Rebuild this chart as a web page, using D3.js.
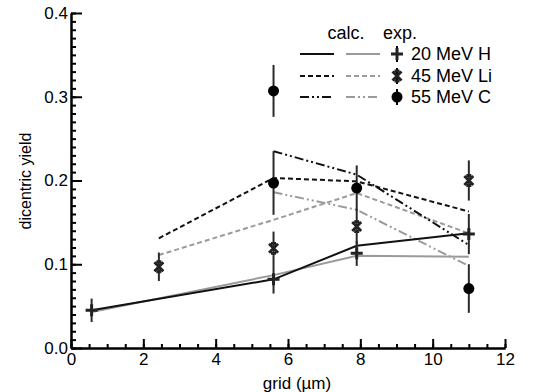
<!DOCTYPE html>
<html>
<head>
<meta charset="utf-8">
<script src="https://cdn.jsdelivr.net/npm/d3@7"></script>
<style>
  body { margin: 0; background: #fff; }
  text { font-family: "Liberation Sans", Arial, sans-serif; fill: #000; }
  .axis path, .axis line { stroke: #000; stroke-width: 2; }
  .axis text { font-family: "Liberation Sans", Arial, sans-serif; font-size: 17px; fill: #000; }
</style>
</head>
<body>
<div class="chart"></div>
<script>
// calculated curves
var calcH  = [[0.57, 0.045], [5.6, 0.082], [7.9, 0.122], [11.0, 0.137]];
var calcLi = [[2.43, 0.131], [5.6, 0.203], [7.9, 0.199], [11.0, 0.163]];
var calcC  = [[5.6, 0.235], [7.9, 0.207], [11.0, 0.123]];

// experimental curves (lines)
var expLineH  = [[0.57, 0.043], [5.6, 0.087], [7.9, 0.110], [11.0, 0.109]];
var expLineLi = [[2.43, 0.111], [5.6, 0.153], [7.9, 0.185], [11.0, 0.137]];
var expLineC  = [[5.6, 0.186], [7.9, 0.165], [11.0, 0.098]];

// experimental points: [x, y, error]
var expH  = [[0.57, 0.045, 0.014], [5.6, 0.082, 0.017], [7.9, 0.113, 0.015], [11.0, 0.136, 0.024]];
var expLi = [[2.43, 0.097, 0.017], [5.6, 0.119, 0.020], [7.9, 0.145, 0.021], [11.0, 0.200, 0.024]];
var expC  = [[5.6, 0.307, 0.031], [5.6, 0.197, 0.038], [7.9, 0.191, 0.027], [11.0, 0.071, 0.029]];

var legendLabels = ["20 MeV H", "45 MeV Li", "55 MeV C"];
var xTicks = [0, 2, 4, 6, 8, 10, 12];
var yTicks = [0.0, 0.1, 0.2, 0.3, 0.4];

var W = 539, H = 392;
var pLeft = 71, pTop = 13, pRight = 505, pBottom = 348;

var x = d3.scaleLinear().domain([0, 12]).range([pLeft, pRight]);
var y = d3.scaleLinear().domain([0, 0.4]).range([pBottom, pTop]);

var svg = d3.select(".chart").append("svg")
  .attr("width", W).attr("height", H);

var line = d3.line()
  .x(function(d) { return x(d[0]); })
  .y(function(d) { return y(d[1]); });

var dashed = "5,3";
var dashDot = "9,3,2,3,2,3";
var black = "#111", grey = "#9a9a9a";

var series = [
  {data: expLineH,  color: grey,  dash: null},
  {data: expLineLi, color: grey,  dash: dashed},
  {data: expLineC,  color: grey,  dash: dashDot},
  {data: calcH,  color: black, dash: null},
  {data: calcLi, color: black, dash: dashed},
  {data: calcC,  color: black, dash: dashDot}
];

svg.append("g").selectAll("path")
  .data(series)
  .enter().append("path")
  .attr("d", function(d) { return line(d.data); })
  .attr("fill", "none")
  .attr("stroke", function(d) { return d.color; })
  .attr("stroke-width", 2)
  .attr("stroke-dasharray", function(d) { return d.dash; });

// error bars and markers
var points = [
  {data: expH,  sym: "plus"},
  {data: expLi, sym: "star"},
  {data: expC,  sym: "circle"}
];

var ptG = svg.append("g");
points.forEach(function(p) {
  ptG.selectAll(null)
    .data(p.data)
    .enter().append("line")
    .attr("x1", function(d) { return x(d[0]); })
    .attr("x2", function(d) { return x(d[0]); })
    .attr("y1", function(d) { return y(d[1] - d[2]); })
    .attr("y2", function(d) { return y(d[1] + d[2]); })
    .attr("stroke", "#2a2a2a")
    .attr("stroke-width", 2);
});

function drawMarker(g, sym, cx, cy) {
  if (sym == "circle") {
    g.append("circle").attr("cx", cx).attr("cy", cy).attr("r", 5.5).attr("fill", "#000");
  } else if (sym == "plus") {
    g.append("path")
      .attr("d", "M" + (cx - 6) + "," + cy + "H" + (cx + 6) + "M" + cx + "," + (cy - 6) + "V" + (cy + 6))
      .attr("stroke", "#222").attr("stroke-width", 3).attr("fill", "none");
  } else {
    g.append("path")
      .attr("d", "M" + (cx - 4.5) + "," + (cy - 4.5) + "L" + (cx + 4.5) + "," + (cy + 4.5) +
                 "M" + (cx + 4.5) + "," + (cy - 4.5) + "L" + (cx - 4.5) + "," + (cy + 4.5) +
                 "M" + (cx - 2.5) + "," + (cy - 5) + "H" + (cx + 2.5) +
                 "M" + (cx - 2.5) + "," + (cy + 5) + "H" + (cx + 2.5))
      .attr("stroke", "#222").attr("stroke-width", 2.8).attr("fill", "none");
  }
}

points.forEach(function(p) {
  p.data.forEach(function(d) {
    drawMarker(ptG, p.sym, x(d[0]), y(d[1]));
  });
});

// axes: minor ticks first, then major ticks with labels (ticks point inward)
var yMinor = d3.range(0, 41).map(function(v) { return v / 100; });
var xMinor = d3.range(0, 25).map(function(v) { return v / 2; });

svg.append("g").attr("class", "axis")
  .attr("transform", "translate(" + pLeft + ",0)")
  .call(d3.axisLeft(y).tickValues(yMinor).tickSize(-5).tickSizeOuter(0).tickFormat(""));

svg.append("g").attr("class", "axis")
  .attr("transform", "translate(0," + pBottom + ")")
  .call(d3.axisBottom(x).tickValues(xMinor).tickSize(-4).tickSizeOuter(0).tickFormat(""));

svg.append("g").attr("class", "axis")
  .attr("transform", "translate(" + pLeft + ",0)")
  .call(d3.axisLeft(y).tickValues(yTicks).tickSize(-11).tickSizeOuter(0).tickPadding(3)
    .tickFormat(d3.format(".1f")));

svg.append("g").attr("class", "axis")
  .attr("transform", "translate(0," + pBottom + ")")
  .call(d3.axisBottom(x).tickValues(xTicks).tickSize(-9).tickSizeOuter(0).tickPadding(5)
    .tickFormat(d3.format("d")));

svg.append("text")
  .attr("x", 297).attr("y", 389)
  .attr("text-anchor", "middle")
  .style("font-size", "17px")
  .text("grid (µm)");

svg.append("text")
  .attr("transform", "translate(31,181) rotate(-90)")
  .attr("text-anchor", "middle")
  .style("font-size", "16px")
  .text("dicentric yield");

// legend
var leg = svg.append("g");
leg.append("text").attr("x", 346).attr("y", 39).attr("text-anchor", "middle")
  .style("font-size", "18px").text("calc.");
leg.append("text").attr("x", 400).attr("y", 39).attr("text-anchor", "middle")
  .style("font-size", "18px").text("exp.");

var legDash = [null, dashed, dashDot];
var legSym = ["plus", "star", "circle"];
var legY = [54, 76, 97];
legendLabels.forEach(function(lab, i) {
  leg.append("line").attr("x1", 300).attr("x2", 334).attr("y1", legY[i]).attr("y2", legY[i])
    .attr("stroke", black).attr("stroke-width", 2).attr("stroke-dasharray", legDash[i]);
  leg.append("line").attr("x1", 346).attr("x2", 380).attr("y1", legY[i]).attr("y2", legY[i])
    .attr("stroke", grey).attr("stroke-width", 2).attr("stroke-dasharray", legDash[i]);
  leg.append("line").attr("x1", 397).attr("x2", 397).attr("y1", legY[i] - 8).attr("y2", legY[i] + 8)
    .attr("stroke", "#000").attr("stroke-width", 2);
  drawMarker(leg, legSym[i], 397, legY[i]);
  leg.append("text").attr("x", 411).attr("y", legY[i]).attr("dy", "0.36em")
    .style("font-size", "18px").text(lab);
});
</script>
</body>
</html>
